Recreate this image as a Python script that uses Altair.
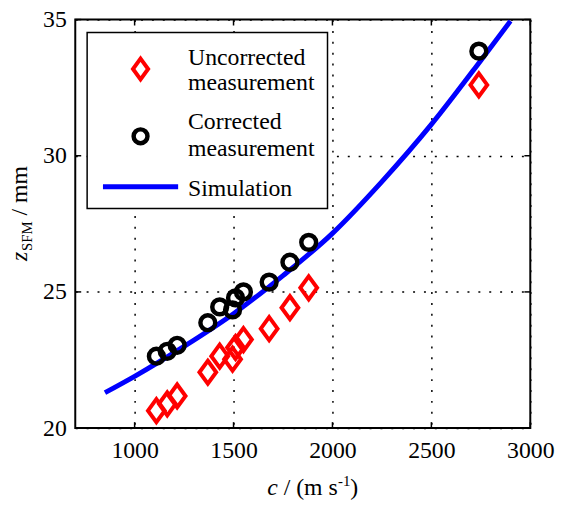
import altair as alt
import pandas as pd

# ---- data ----
meas_c = [1110, 1165, 1215, 1370, 1430, 1495, 1510, 1550, 1680, 1785, 1880, 2740]
corrected_z = [22.64, 22.82, 23.04, 23.87, 24.45, 24.34, 24.78, 25.0, 25.36, 26.09, 26.82, 33.84]
uncorrected_z = [20.64, 20.89, 21.18, 22.05, 22.64, 22.53, 22.96, 23.25, 23.65, 24.42, 25.15, 32.6]

sim_c = [850, 1000, 1250, 1500, 1750, 2000, 2250, 2500, 2750, 2900]
sim_z = [21.3, 21.9, 23.0, 24.2, 25.6, 27.15, 29.05, 31.15, 33.5, 34.95]

x_ticks = [1000, 1500, 2000, 2500, 3000]
y_ticks = [20, 25, 30, 35]

legend_labels = [["Uncorrected", "measurement"], ["Corrected", "measurement"], ["Simulation"]]

FONT = "Liberation Serif"
W, H = 460, 413
DIAMOND = "M0,-1L0.73,0L0,1L-0.73,0Z"

meas = pd.DataFrame({"c": meas_c, "corr": corrected_z, "unc": uncorrected_z})
sim = pd.DataFrame({"c": sim_c, "z": sim_z})
xt = pd.DataFrame({"v": x_ticks})
yt = pd.DataFrame({"v": y_ticks})
one = pd.DataFrame({"k": [0]})

xscale = alt.Scale(domain=[700, 3000], nice=False, zero=False)
yscale = alt.Scale(domain=[20, 35], nice=False, zero=False)

xaxis = alt.Axis(values=x_ticks, format="d", title=None, grid=True, gridDash=[2, 9], gridColor="black",
                 gridWidth=1.5, gridOpacity=1, ticks=False, domain=False,
                 labelFont=FONT, labelFontSize=24, labelColor="black", labelPadding=11,
                 labelFlush=False, labelOverlap=False)
yaxis = alt.Axis(values=y_ticks, format="d", title=None, grid=True, gridDash=[2, 9], gridColor="black",
                 gridWidth=1.5, gridOpacity=1, ticks=False, domain=False,
                 labelFont=FONT, labelFontSize=24, labelColor="black", labelPadding=9,
                 labelFlush=False, labelOverlap=False)

unc = alt.Chart(meas).mark_point(shape=DIAMOND, filled=False, stroke="#ff0000",
                                 strokeWidth=4, size=540, opacity=1).encode(
    x=alt.X("c:Q", scale=xscale, axis=xaxis),
    y=alt.Y("unc:Q", scale=yscale, axis=yaxis),
)
cor = alt.Chart(meas).mark_point(shape="circle", filled=False, stroke="black",
                                 strokeWidth=4.5, size=225, opacity=1).encode(
    x=alt.X("c:Q", scale=xscale),
    y=alt.Y("corr:Q", scale=yscale),
)
line = alt.Chart(sim).mark_line(color="#0000ff", strokeWidth=5, interpolate="monotone", clip=True).encode(
    x=alt.X("c:Q", scale=xscale),
    y=alt.Y("z:Q", scale=yscale),
)

# inside ticks (MATLAB style) on all four sides
tick_style = dict(color="black", strokeWidth=1.5)
tb = alt.Chart(xt).mark_rule(**tick_style).encode(x=alt.X("v:Q", scale=xscale), y=alt.value(H), y2=alt.value(H - 6))
tt = alt.Chart(xt).mark_rule(**tick_style).encode(x=alt.X("v:Q", scale=xscale), y=alt.value(0), y2=alt.value(6))
tl = alt.Chart(yt).mark_rule(**tick_style).encode(y=alt.Y("v:Q", scale=yscale), x=alt.value(0), x2=alt.value(6))
tr = alt.Chart(yt).mark_rule(**tick_style).encode(y=alt.Y("v:Q", scale=yscale), x=alt.value(W), x2=alt.value(W - 6))

# legend
lg_box = alt.Chart(one).mark_rect(fill="white", stroke="black", strokeWidth=1.5).encode(
    x=alt.value(12), x2=alt.value(255), y=alt.value(13), y2=alt.value(191))
lg_d = alt.Chart(one).mark_point(shape=DIAMOND, filled=False, stroke="#ff0000", strokeWidth=4,
                                 size=440, opacity=1).encode(x=alt.value(66), y=alt.value(50))
lg_c = alt.Chart(one).mark_point(shape="circle", filled=False, stroke="black", strokeWidth=4.5,
                                 size=196, opacity=1).encode(x=alt.value(66), y=alt.value(118))
lg_l = alt.Chart(one).mark_rule(color="#0000ff", strokeWidth=5).encode(
    x=alt.value(28), x2=alt.value(104), y=alt.value(169))

txt = dict(font=FONT, fontSize=24, color="black", align="left", baseline="alphabetic")
lg_texts = []
for text, yy in [(legend_labels[0][0], 46), (legend_labels[0][1], 71),
                 (legend_labels[1][0], 111), (legend_labels[1][1], 138),
                 (legend_labels[2][0], 178)]:
    lg_texts.append(alt.Chart(one).mark_text(text=text, **txt).encode(x=alt.value(114), y=alt.value(yy)))

# axis titles built from pieces (italic symbol, subscript / superscript)
XT_Y = 481
X0 = 194
xt1 = alt.Chart(one).mark_text(text="c", fontStyle="italic", **txt).encode(x=alt.value(X0), y=alt.value(XT_Y))
xt2 = alt.Chart(one).mark_text(text="/ (m s", **txt).encode(x=alt.value(X0 + 16.7), y=alt.value(XT_Y))
xt3 = alt.Chart(one).mark_text(text="-1", font=FONT, fontSize=15, color="black", align="left",
                               baseline="alphabetic").encode(x=alt.value(X0 + 71.6), y=alt.value(XT_Y - 9))
xt4 = alt.Chart(one).mark_text(text=")", **txt).encode(x=alt.value(X0 + 84), y=alt.value(XT_Y))

YT_X = -49
Y0 = 244
rot = dict(font=FONT, color="black", align="left", baseline="alphabetic", angle=270)
yt1 = alt.Chart(one).mark_text(text="z", fontStyle="italic", fontSize=24, **rot).encode(x=alt.value(YT_X), y=alt.value(Y0))
yt2 = alt.Chart(one).mark_text(text="SFM", fontSize=15, **rot).encode(x=alt.value(YT_X + 5), y=alt.value(Y0 - 10))
yt3 = alt.Chart(one).mark_text(text="/ mm", fontSize=24, **rot).encode(x=alt.value(YT_X), y=alt.value(Y0 - 46))

chart = alt.layer(
    line, cor, unc, tb, tt, tl, tr,
    lg_box, lg_d, lg_c, lg_l, *lg_texts,
    xt1, xt2, xt3, xt4, yt1, yt2, yt3,
).properties(
    width=W, height=H,
    autosize=alt.AutoSizeParams(type="none"),
    padding={"left": 68, "top": 9, "right": 27, "bottom": 70},
    background="white",
).configure_view(stroke="black", strokeWidth=2)

chart.save("out.html", embed_options={"renderer": "svg", "actions": False})
